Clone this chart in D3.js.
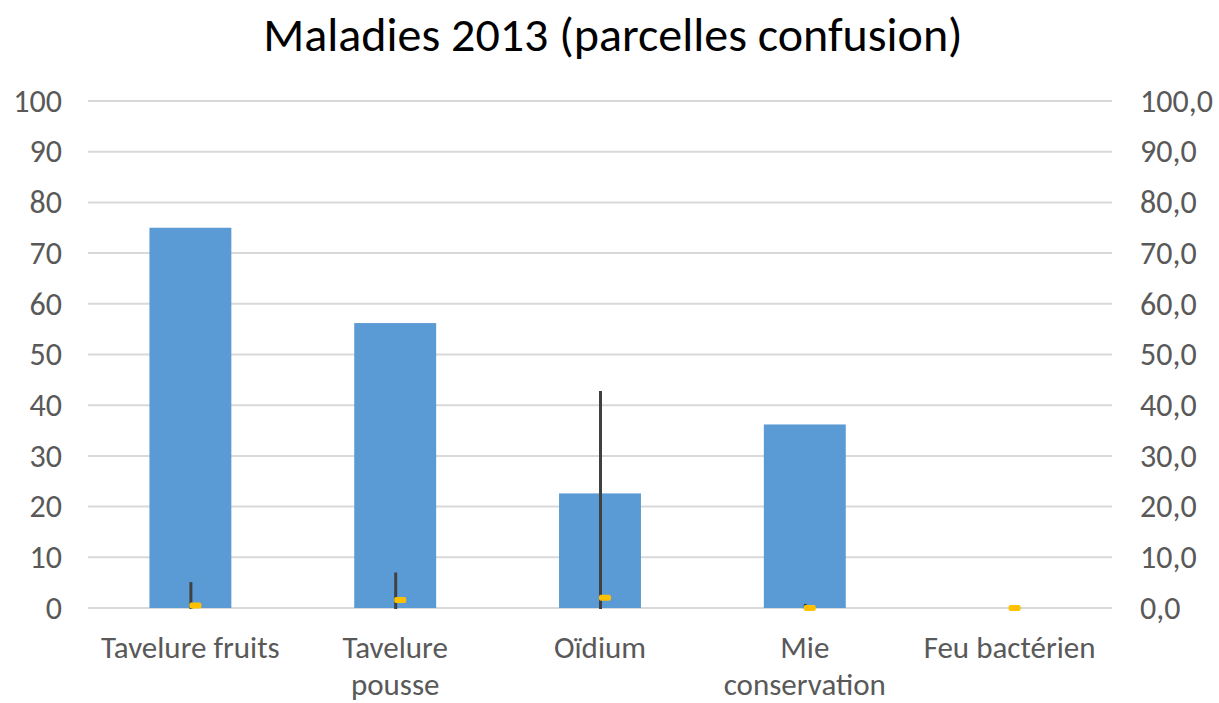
<!DOCTYPE html>
<html><head><meta charset="utf-8">
<script src="https://cdn.jsdelivr.net/npm/d3@7"></script>
<style>body{margin:0;background:#fff}text{font-family:Carlito,Calibri,"Open Sans",sans-serif}</style>
</head><body><svg id="c" width="1219" height="703"></svg>
<script>
const categories = ["Tavelure fruits", "Tavelure pousse", "Oïdium", "Mie conservation", "Feu bactérien"];
const barValues = [75, 56.2, 22.6, 36.2, 0];
const errorValues = [5.1, 7.0, 42.8, 0.8, 0];
const markerValues = [0.5, 1.6, 2.0, 0, 0];
const leftTicks = [0,10,20,30,40,50,60,70,80,90,100];
const rightTicks = [0,10,20,30,40,50,60,70,80,90,100];

const svg = d3.select("#c");
const L = 88, R = 1112, T = 101, B = 608;
const FF = "Carlito,Calibri,'Open Sans',sans-serif";
const x = d3.scaleBand().domain(categories).range([L, R]).paddingInner(0).paddingOuter(0);
const y = d3.scaleLinear().domain([0,100]).range([B, T]);
const y2 = d3.scaleLinear().domain([0,100]).range([B, T]);

svg.append("text").attr("x", 613).attr("y", 51).attr("text-anchor","middle")
  .attr("font-size", 48).attr("fill","#000").text("Maladies 2013 (parcelles confusion)");

// gridlines
svg.append("g").selectAll("line").data(leftTicks).join("line")
  .attr("x1", L).attr("x2", R).attr("y1", d=>y(d)).attr("y2", d=>y(d))
  .attr("stroke","#d9d9d9").attr("stroke-width",2);

// left axis labels
const ga = svg.append("g").attr("transform",`translate(${L},0)`)
  .call(d3.axisLeft(y).tickValues(leftTicks).tickSize(0).tickPadding(26).tickFormat(d3.format("d")));
ga.select(".domain").remove();
ga.selectAll("text").attr("font-size",32).attr("fill","#595959").attr("font-family",FF);

const gb = svg.append("g").attr("transform",`translate(${R},0)`)
  .call(d3.axisRight(y2).tickValues(rightTicks).tickSize(0).tickPadding(28).tickFormat(d=>d.toFixed(1).replace(".",",")));
gb.select(".domain").remove();
gb.selectAll("text").attr("font-size",32).attr("fill","#595959").attr("font-family",FF);

// bars
const bw = x.bandwidth()*0.4;
svg.append("g").selectAll("rect").data(categories).join("rect")
  .attr("x", (d)=>x(d)+x.bandwidth()/2-bw/2)
  .attr("y", (d,i)=>y(barValues[i]))
  .attr("width", bw)
  .attr("height", (d,i)=>y(0)-y(barValues[i]))
  .attr("fill","#5b9bd5");

// error lines
svg.append("g").selectAll("line").data(categories.filter((d,i)=>errorValues[i]>0)).join("line")
  .attr("x1", d=>x(d)+x.bandwidth()/2+0.5).attr("x2", d=>x(d)+x.bandwidth()/2+0.5)
  .attr("y1", d=>y2(0)+1).attr("y2", d=>y2(errorValues[categories.indexOf(d)]))
  .attr("stroke","#404040").attr("stroke-width",3);

// yellow dash markers
svg.append("g").selectAll("rect").data(categories).join("rect")
  .attr("x", d=>x(d)+x.bandwidth()/2-1)
  .attr("y", (d,i)=>y2(markerValues[i])-3)
  .attr("width", 12).attr("height", 6).attr("rx",2)
  .attr("fill","#ffc000");

// x labels
const xl = svg.append("g");
const lines = {"Tavelure pousse":["Tavelure","pousse"],"Mie conservation":["Mie","conservation"]};
categories.forEach(c=>{
  const ls = lines[c] || [c];
  const t = xl.append("text").attr("x", x(c)+x.bandwidth()/2).attr("y", 658)
    .attr("text-anchor","middle").attr("font-size",31).attr("fill","#595959");
  ls.forEach((s,i)=>t.append("tspan").attr("x", x(c)+x.bandwidth()/2).attr("dy", i?37:0).text(s));
});
</script></body></html>
